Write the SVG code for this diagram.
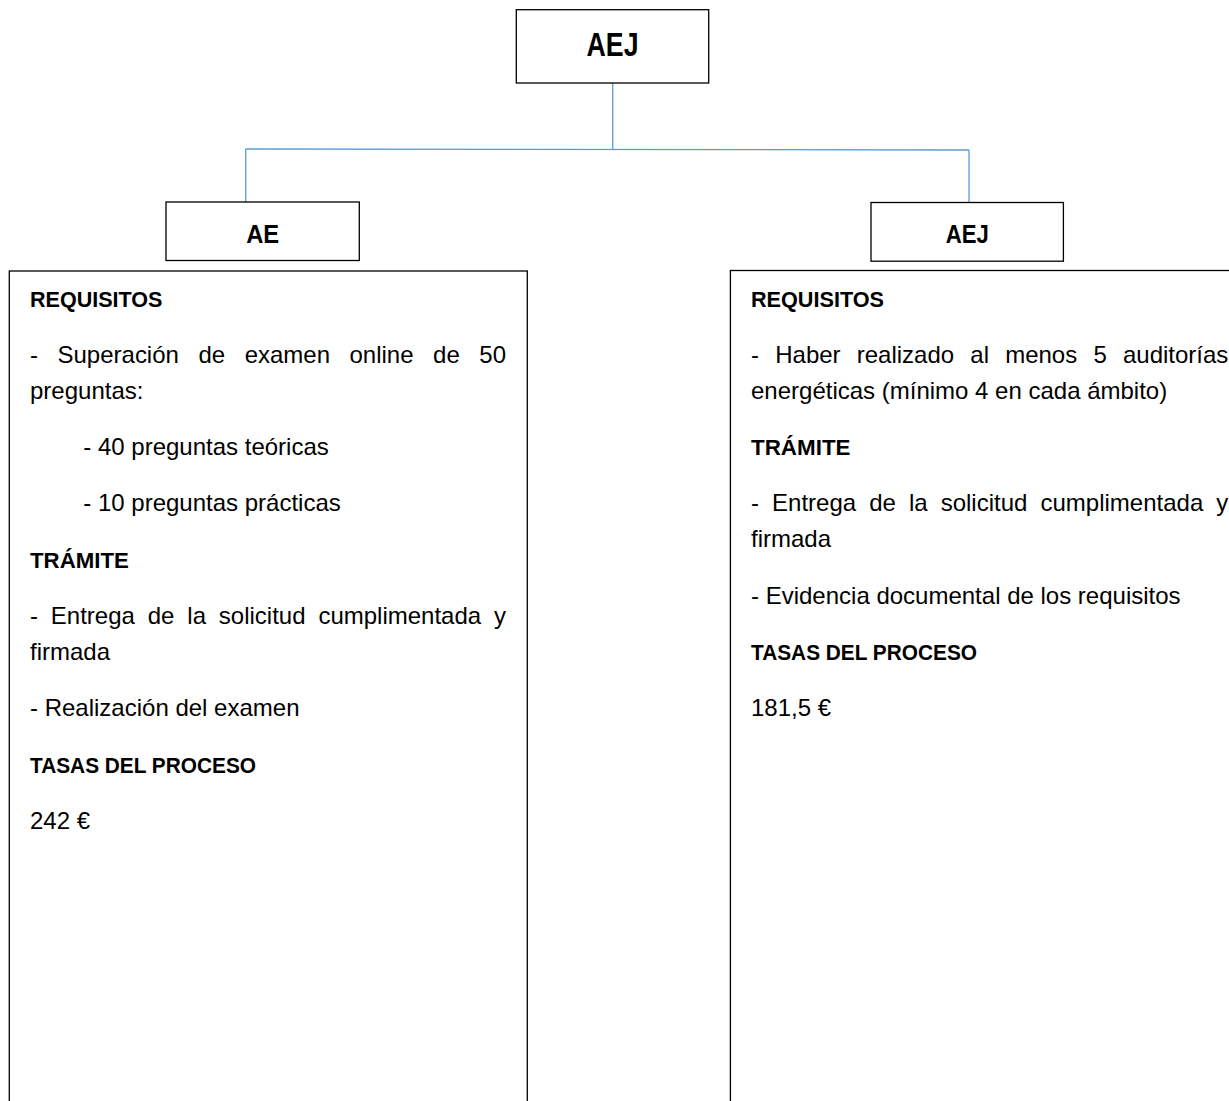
<svg xmlns="http://www.w3.org/2000/svg" width="1229" height="1101" viewBox="0 0 1229 1101">
  <style>
    .box { fill: #ffffff; stroke: #000000; stroke-width: 1.3; }
    .conn { fill: none; stroke: #5B9BD5; stroke-width: 1.3; }
    .lbl { font-family: "Liberation Sans", Arial, sans-serif; font-weight: bold; fill: #000000; text-anchor: middle; }
    .h { font-family: "Liberation Sans", Arial, sans-serif; font-weight: bold; font-size: 22px; fill: #000000; }
    .t { font-family: "Liberation Sans", Arial, sans-serif; font-size: 24px; fill: #000000; }
  </style>
  <rect width="1229" height="1101" fill="#ffffff"/>

  <g id="connectors">
    <polyline class="conn" points="612.7,83 612.7,149"/>
    <polyline class="conn" points="245.7,149 969,150"/>
    <polyline class="conn" points="245.7,149 245.7,202"/>
    <polyline class="conn" points="969,150 969,202.5"/>
  </g>

  <g id="node-root">
    <rect class="box" x="516.3" y="9.7" width="192.4" height="73.3"/>
    <text class="lbl" x="612.5" y="55.7" font-size="33" textLength="52" lengthAdjust="spacingAndGlyphs">AEJ</text>
  </g>

  <g id="node-ae">
    <rect class="box" x="166" y="202" width="193.3" height="58.5"/>
    <text class="lbl" x="262.7" y="243" font-size="25.5" textLength="33" lengthAdjust="spacingAndGlyphs">AE</text>
  </g>

  <g id="node-aej">
    <rect class="box" x="871" y="202.5" width="192.4" height="58.7"/>
    <text class="lbl" x="967.2" y="243" font-size="25.5" textLength="43" lengthAdjust="spacingAndGlyphs">AEJ</text>
  </g>

  <g id="panel-ae">
    <rect class="box" x="9.3" y="271" width="518" height="900"/>
    <text class="h" x="30" y="306.5" textLength="132.5" lengthAdjust="spacingAndGlyphs">REQUISITOS</text>
    <text class="t" x="30" y="362.8" word-spacing="12.86" textLength="476" lengthAdjust="spacing">- Superación de examen online de 50</text>
    <text class="t" x="30" y="398.8">preguntas:</text>
    <text class="t" x="83.3" y="455.1">- 40 preguntas teóricas</text>
    <text class="t" x="83.3" y="511.4">- 10 preguntas prácticas</text>
    <text class="h" x="30" y="567.7" textLength="98.8" lengthAdjust="spacingAndGlyphs">TRÁMITE</text>
    <text class="t" x="30" y="624" word-spacing="6.2" textLength="476" lengthAdjust="spacing">- Entrega de la solicitud cumplimentada y</text>
    <text class="t" x="30" y="660">firmada</text>
    <text class="t" x="30" y="716.3">- Realización del examen</text>
    <text class="h" x="30" y="772.6" textLength="226" lengthAdjust="spacingAndGlyphs">TASAS DEL PROCESO</text>
    <text class="t" x="30" y="828.9">242 €</text>
  </g>

  <g id="panel-aej">
    <rect class="box" x="730.4" y="270.5" width="540" height="900"/>
    <text class="h" x="751" y="306.5" textLength="133" lengthAdjust="spacingAndGlyphs">REQUISITOS</text>
    <text class="t" x="751" y="362.8" word-spacing="9.57" textLength="477.3" lengthAdjust="spacing">- Haber realizado al menos 5 auditorías</text>
    <text class="t" x="751" y="398.8">energéticas (mínimo 4 en cada ámbito)</text>
    <text class="h" x="751" y="455.1" textLength="99.5" lengthAdjust="spacingAndGlyphs">TRÁMITE</text>
    <text class="t" x="751" y="511.4" word-spacing="6.36" textLength="477.3" lengthAdjust="spacing">- Entrega de la solicitud cumplimentada y</text>
    <text class="t" x="751" y="547.4">firmada</text>
    <text class="t" x="751" y="603.7">- Evidencia documental de los requisitos</text>
    <text class="h" x="751" y="660" textLength="226" lengthAdjust="spacingAndGlyphs">TASAS DEL PROCESO</text>
    <text class="t" x="751" y="716.3">181,5 €</text>
  </g>
</svg>
